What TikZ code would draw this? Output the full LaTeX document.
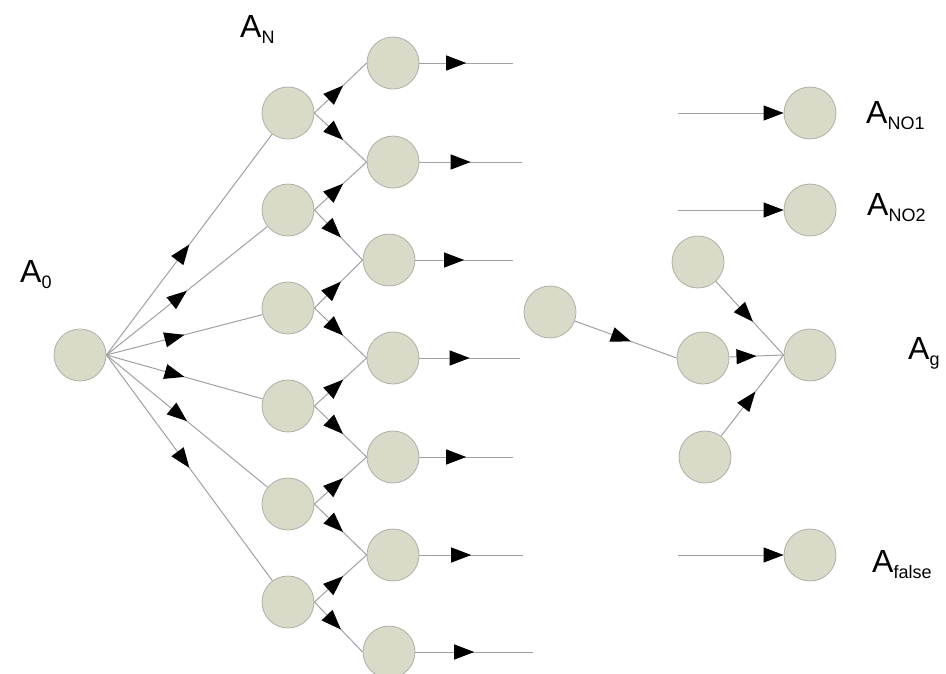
\documentclass[tikz,border=0pt]{standalone}
\usepackage{fontspec}
\setmainfont{Liberation Sans}
\usetikzlibrary{arrows.meta,decorations.markings}
\definecolor{nodefill}{RGB}{217,218,200}
\definecolor{nodeline}{RGB}{175,175,165}
\definecolor{linegray}{RGB}{160,160,165}
\newcommand\Alab[1]{{\fontsize{32}{32}\selectfont A}\raisebox{-6pt}{\fontsize{18}{18}\selectfont #1}}
\begin{document}
\begin{tikzpicture}[x=1pt,y=-1pt,
  st/.style={circle,minimum size=52pt,inner sep=0pt,draw=nodeline,fill=nodefill,line width=0.8pt},
  conn/.style={draw=linegray,line width=1pt},
  arrowat/.style={postaction={decorate,decoration={markings,mark=at position #1 with {\arrow{Triangle[length=20pt,width=15pt,color=black]}}}}},
  endarrow/.style={-{Triangle[length=20pt,width=15pt,color=black]}},
  lab/.style={anchor=base west,inner sep=0pt}
]
\useasboundingbox (0,0) rectangle (946,673);

% source node
\node[st] (a0) at (80,355) {};

% first column
\foreach \i/\y in {1/113,2/210,3/308,4/406,5/504,6/602}
  \node[st] (c1-\i) at (288,\y) {};

% second column with free ends
\foreach \i/\x/\y/\e in {1/393/63/513,2/393/162/522,3/389/260/513,4/393/358/520,5/393/457/513,6/393/555/523,7/389/652/533}{
  \node[st] (c2-\i) at (\x,\y) {};
  \coordinate (o-\i) at (\e,\y);
}

% right part
\node[st] (m) at (550,312) {};
\node[st] (r1) at (698,262) {};
\node[st] (r2) at (703,358) {};
\node[st] (r3) at (705,457) {};
\node[st] (ag) at (810,355) {};
\node[st] (no1) at (810,113) {};
\node[st] (no2) at (810,210) {};
\node[st] (fl) at (810,555) {};
\coordinate (i1) at (678,113);
\coordinate (i2) at (678,210);
\coordinate (i3) at (678,555);

% connectors
\foreach \i in {1,...,6}
  \draw[conn,arrowat=0.5] (a0.east) -- (c1-\i);
\foreach \i in {1,...,6}{
  \pgfmathtruncatemacro\j{\i+1}
  \draw[conn,arrowat=0.55] (c1-\i.east) -- (c2-\i.west);
  \draw[conn,arrowat=0.55] (c1-\i.east) -- (c2-\j.west);
}
\foreach \i in {1,...,7}
  \draw[conn,arrowat=0.5] (c2-\i.east) -- (o-\i);

\draw[conn,arrowat=0.55] (m) -- (r2.west);
\draw[conn,arrowat=0.55] (r1) -- (ag.west);
\draw[conn,arrowat=0.5] (r2) -- (ag.west);
\draw[conn,arrowat=0.55] (r3) -- (ag.west);
\draw[conn,endarrow] (i1) -- (no1);
\draw[conn,endarrow] (i2) -- (no2);
\draw[conn,endarrow] (i3) -- (fl);

% labels
\node[lab] (l0) at (20,282) {\Alab{0}};
\node[lab] (lN) at (240,37) {\Alab{N}};
\node[lab] (lno1) at (866,123) {\Alab{NO1}};
\node[lab] (lno2) at (867,215) {\Alab{NO2}};
\node[lab] (lg) at (908,359) {\Alab{g}};
\node[lab] (lf) at (872,572) {\Alab{false}};
\end{tikzpicture}
\end{document}
